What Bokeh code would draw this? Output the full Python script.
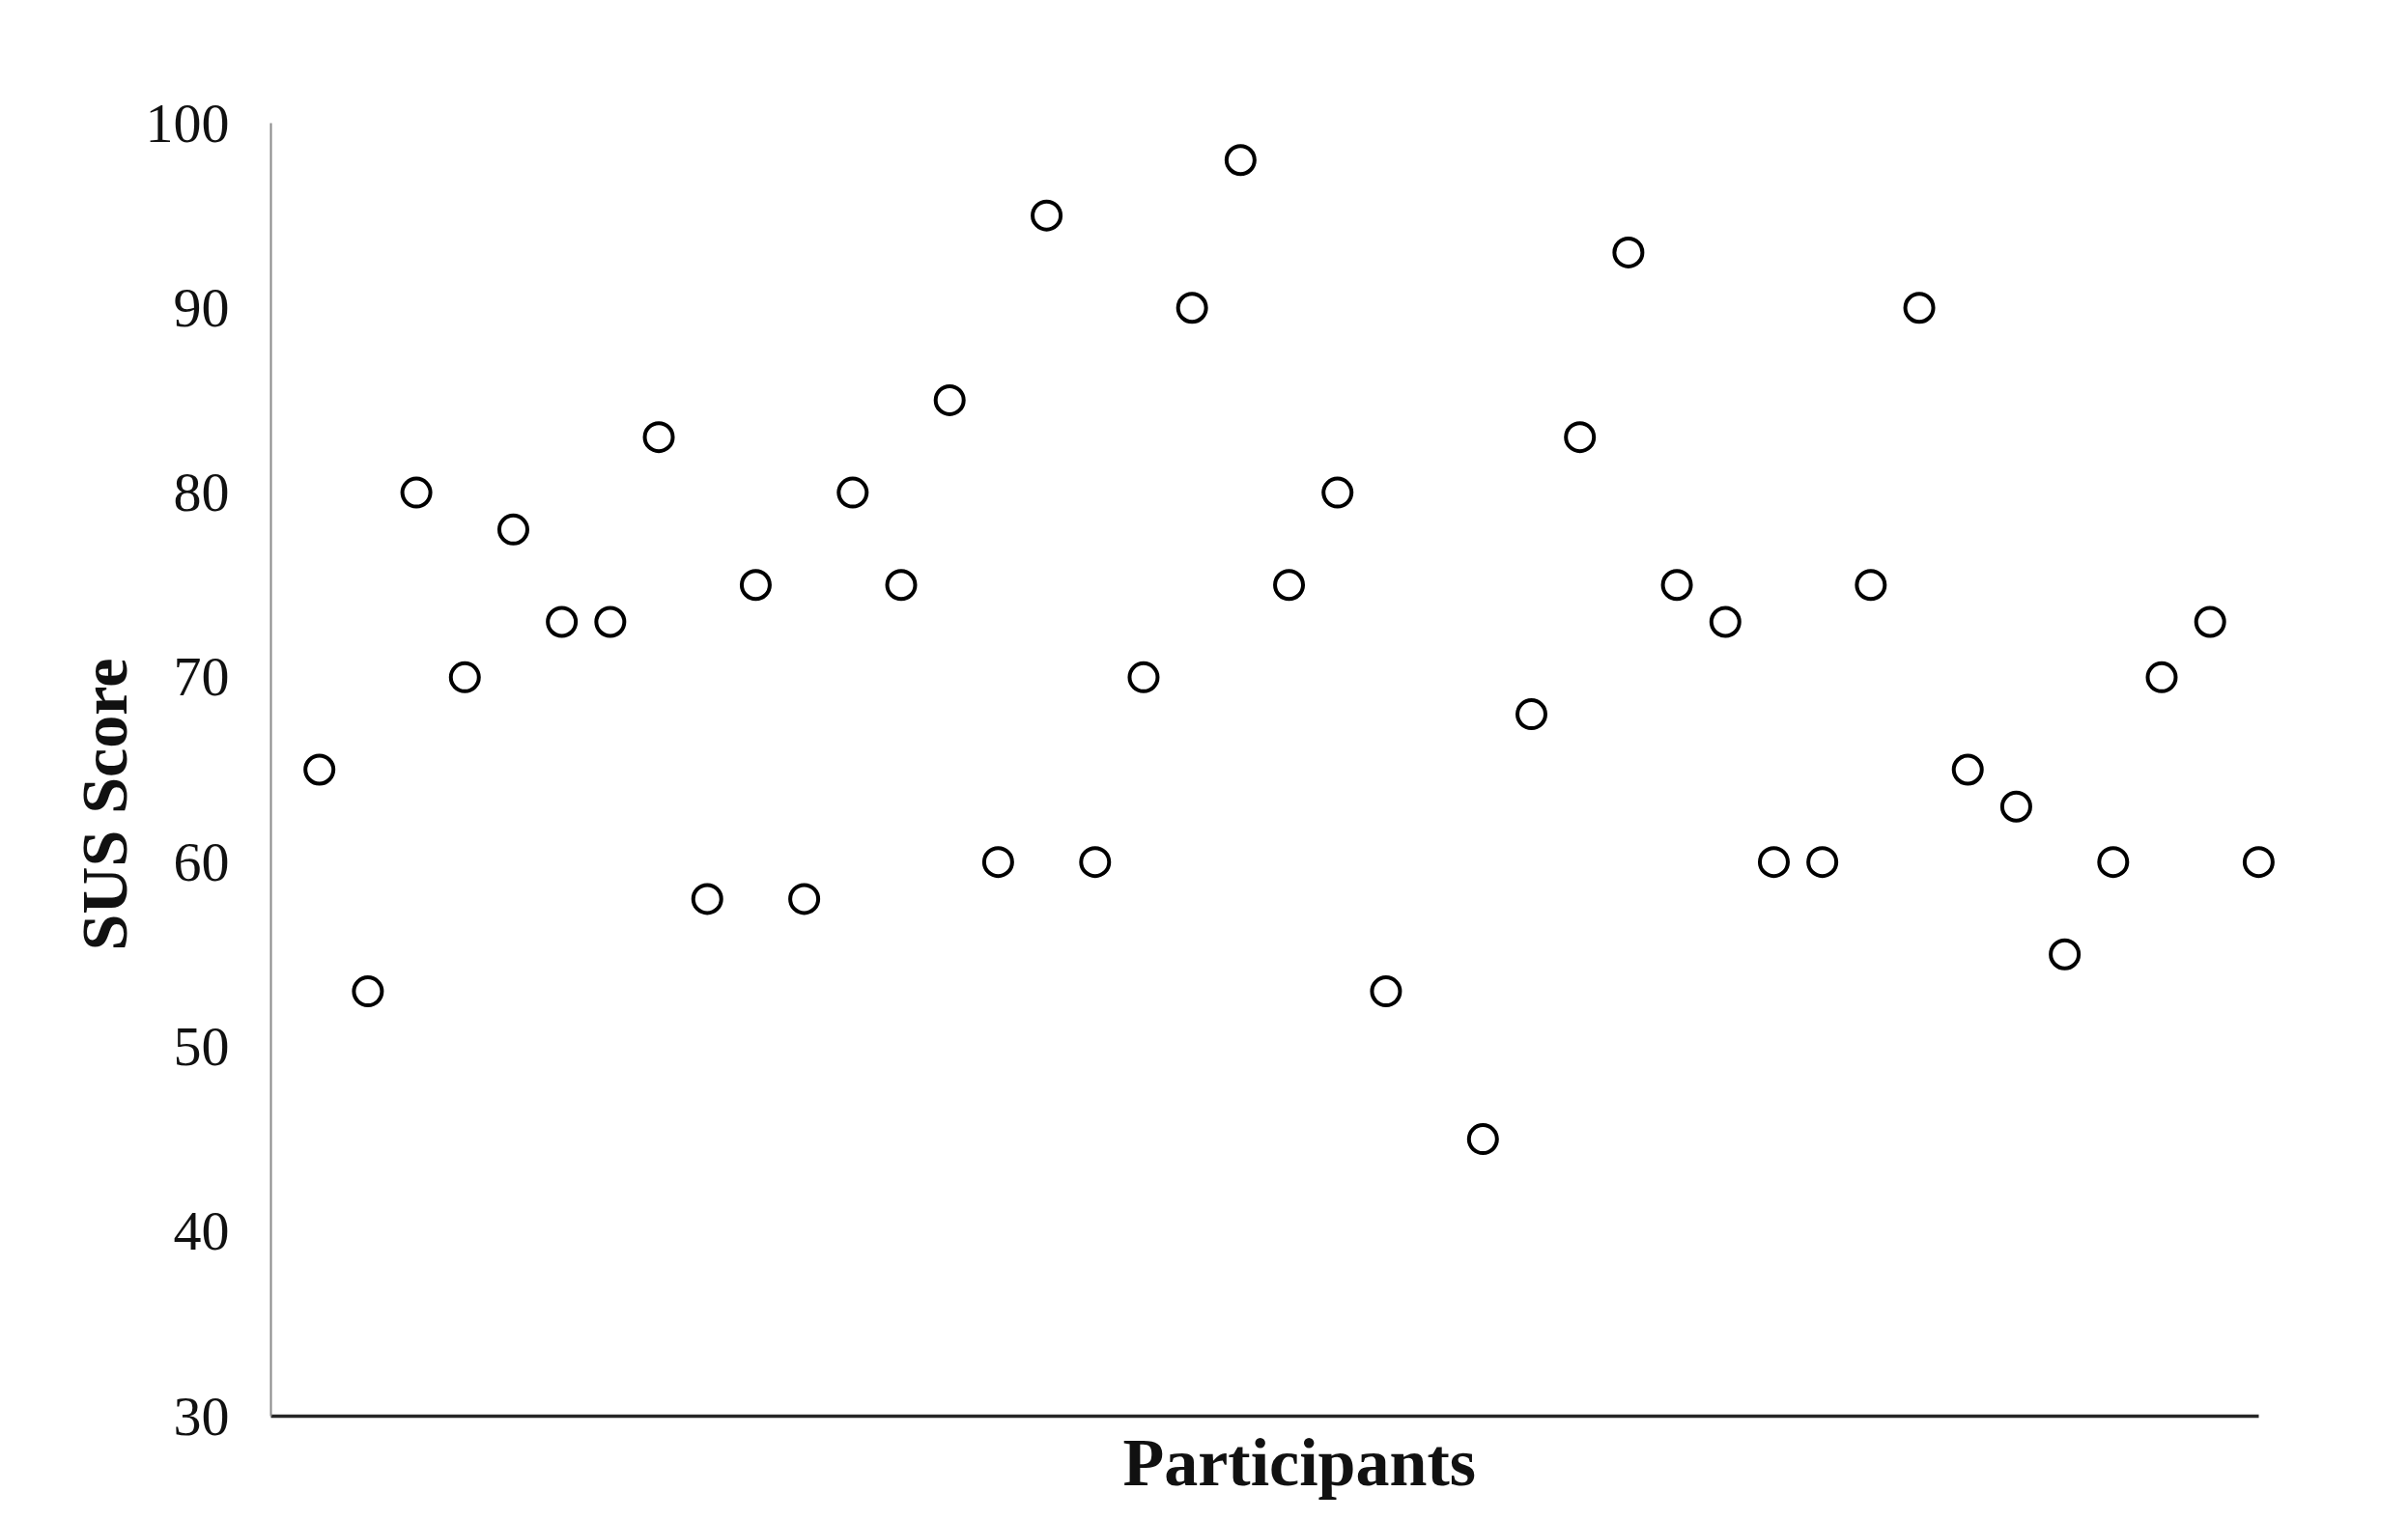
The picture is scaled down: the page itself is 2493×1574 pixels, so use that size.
from bokeh.plotting import figure
from bokeh.models import FixedTicker, ColumnDataSource, Range1d, Title
from bokeh.embed import file_html
from bokeh.resources import INLINE

# Data (participant index, SUS score)
participants = [1, 2, 3, 4, 5, 6, 7, 8, 9, 10, 11, 12, 13, 14, 15, 16, 17, 18, 19, 20,
                21, 22, 23, 25, 26, 27, 28, 29, 30, 31, 32, 33, 34, 35, 36, 37, 38, 39, 40, 41]
sus_scores = [65, 53, 80, 70, 78, 73, 73, 83, 58, 75, 58, 80, 75, 85, 60, 95, 60, 70, 90, 98,
              75, 80, 53, 45, 68, 83, 93, 75, 73, 60, 60, 75, 90, 65, 63, 55, 60, 70, 73, 60]
y_ticks = [30, 40, 50, 60, 70, 80, 90, 100]
x_title = "Participants"
y_title = "SUS Score"

source = ColumnDataSource(data=dict(x=participants, y=sus_scores))

p = figure(width=2477, height=1566, output_backend="svg", toolbar_location=None,
           x_range=Range1d(0, 41.6), y_range=Range1d(30, 100),
           min_border_left=280, min_border_right=109, min_border_top=127, min_border_bottom=100)

p.outline_line_color = None
p.background_fill_color = "white"
p.border_fill_color = "white"
p.xgrid.visible = False
p.ygrid.visible = False

p.scatter("x", "y", source=source, marker="circle", size=29, fill_color="white",
          line_color="black", line_width=4)

# y axis
p.yaxis.ticker = FixedTicker(ticks=y_ticks)
p.yaxis.axis_line_color = "#8a8a8a"
p.yaxis.axis_line_width = 2
p.yaxis.major_tick_line_color = None
p.yaxis.minor_tick_line_color = None
p.yaxis.major_tick_out = 0
p.yaxis.major_tick_in = 0
p.yaxis.major_label_standoff = 43
p.yaxis.major_label_text_font = "Liberation Serif"
p.yaxis.major_label_text_font_size = "58px"
p.yaxis.major_label_text_color = "#111111"

# x axis
p.xaxis.ticker = FixedTicker(ticks=[])
p.xaxis.bounds = (0, 41)
p.xaxis.axis_line_color = "#262626"
p.xaxis.axis_line_width = 3.5
p.xaxis.major_tick_line_color = None
p.xaxis.minor_tick_line_color = None
p.xaxis.major_tick_out = 0
p.xaxis.major_tick_in = 0
p.xaxis.major_label_standoff = 0

# axis titles (as Titles so they can be offset along the axis)
p.add_layout(Title(text=x_title, align="left", offset=882, vertical_align="top", standoff=19,
                   text_font="Liberation Serif", text_font_style="bold",
                   text_font_size="70px", text_color="#111111"), "below")
p.add_layout(Title(text=y_title, align="left", offset=482, vertical_align="bottom", standoff=3,
                   text_font="Liberation Serif", text_font_style="bold",
                   text_font_size="68px", text_color="#111111"), "left")

open("out.html", "w").write(file_html(p, INLINE))
